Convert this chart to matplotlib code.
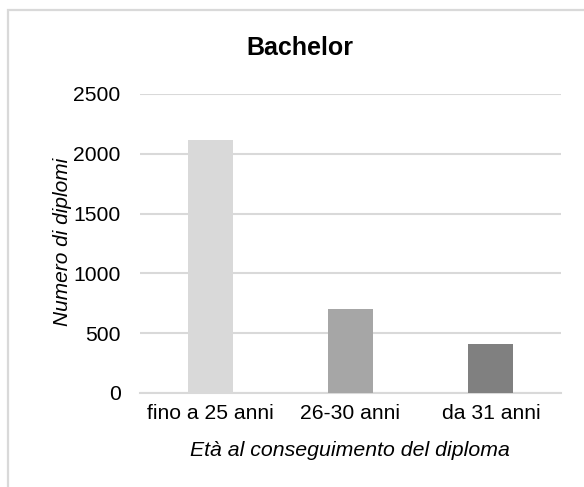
import matplotlib
matplotlib.use('Agg')
import matplotlib.pyplot as plt
from matplotlib.patches import Rectangle

categories = ['fino a 25 anni', '26-30 anni', 'da 31 anni']
diplomi = [2115, 702, 410]
colors = ['#d9d9d9', '#a6a6a6', '#808080']
yticks = [0, 500, 1000, 1500, 2000, 2500]

plt.rcParams['font.family'] = ['Liberation Sans', 'DejaVu Sans']

W, H = 584, 487
fig = plt.figure(figsize=(W / 100, H / 100), dpi=100)
fig.patch.set_facecolor('white')

# outer chart frame (clipped on right and bottom in the reference)
fig.add_artist(Rectangle((7.5 / W, -0.2), 1.5, 1 - 10.5 / H + 0.2,
                         transform=fig.transFigure, fill=False,
                         edgecolor='#d9d9d9', lw=1.6))

ax = fig.add_axes([140 / W, 1 - 393 / H, 421 / W, 299 / H])
x = range(len(categories))
ax.bar(x, diplomi, width=0.32, color=colors, zorder=3)
ax.set_xlim(-0.5, 2.5)
ax.set_ylim(0, 2500)
ax.set_yticks(yticks)
ax.set_xticks(list(x))
ax.set_xticklabels(categories)
ax.yaxis.grid(True, color='#d9d9d9', lw=1.5, zorder=0)
for s in ['top', 'right', 'left']:
    ax.spines[s].set_visible(False)
ax.spines['bottom'].set_color('#d9d9d9')
ax.spines['bottom'].set_linewidth(1.5)
ax.tick_params(axis='y', length=0, pad=14, labelsize=15.2, labelcolor='#000000')
ax.tick_params(axis='x', length=0, pad=8, labelsize=15.2, labelcolor='#000000')

fig.text(300 / W, 1 - 48 / H, 'Bachelor', ha='center', va='center',
         fontsize=18, fontweight='bold')
fig.text(62 / W, 1 - 242 / H, 'Numero di diplomi', ha='center', va='center',
         rotation=90, fontsize=15, fontstyle='italic')
fig.text(350 / W, 1 - 450 / H, 'Età al conseguimento del diploma',
         ha='center', va='center', fontsize=15.3, fontstyle='italic')

fig.savefig('out.png', dpi=100)
